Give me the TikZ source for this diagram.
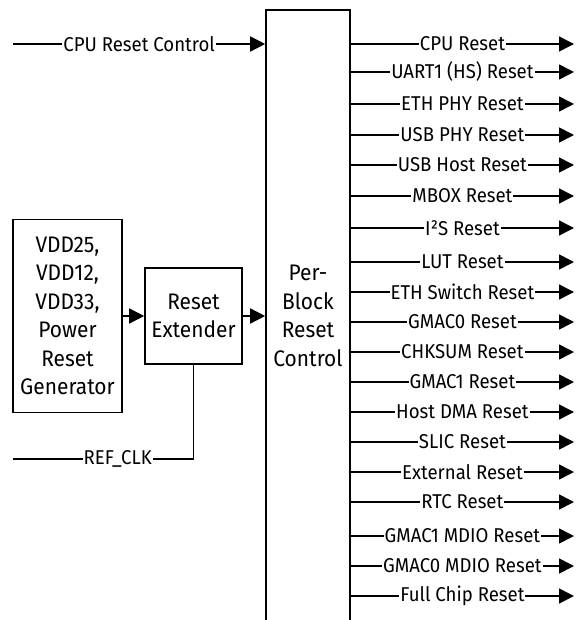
\documentclass[tikz,border=0pt]{standalone}
\usepackage{fontspec}
\setmainfont[FakeStretch = 0.93]{Fira Sans}
\usetikzlibrary{arrows.meta,positioning}

\tikzset{
  blk/.style = {draw, line width = 1.6pt, align = center, font = \fontsize{22.5}{28.5}\selectfont},
  wire/.style = {line width = 1.6pt},
  sig/.style = {wire, -{Triangle[length = 15pt, width = 15pt]}},
  lbl/.style = {fill = white, inner sep = 1pt, font = \fontsize{20}{22}\selectfont}
}

\begin{document}
\begin{tikzpicture}[x = 1pt, y = -1pt]
\useasboundingbox (0,0) rectangle (575,620);
\node[blk, minimum width = 109pt, minimum height = 193pt] (prg) at (67.5,316) {VDD25,\\VDD12,\\VDD33,\\Power\\Reset\\Generator};
\node[blk, minimum width = 97pt, minimum height = 96pt] (ext) at (193.5,316) {Reset\\Extender};
\node[draw, line width = 1.6pt, minimum width = 84pt, minimum height = 640pt, anchor = north] (ctrl) at (308,9) {};
\node[blk, draw = none] (ctrltxt) at (308,316) {Per-\\Block\\Reset\\Control};
% inputs
\coordinate (cpuin) at (13,44);
\coordinate (clkin) at (13,459);
\draw[sig] (cpuin) -- node[lbl] {CPU Reset Control} (cpuin -| ctrl.west);
\draw[sig] (prg) -- (ext);
\draw[sig] (ext) -- (ext -| ctrl.west);
\draw[wire] (clkin) -| node[lbl, pos = 0.29] {REF\_CLK} (ext.south);
% outputs
\foreach \y/\t [count = \i] in {44/{CPU Reset}, 72/{UART1 (HS) Reset}, 104/{ETH PHY Reset}, 135/{USB PHY Reset}, 165/{USB Host Reset}, 196/{MBOX Reset}, 228/{I²S Reset}, 262/{LUT Reset}, 292/{ETH Switch Reset}, 322/{GMAC0 Reset}, 352/{CHKSUM Reset}, 382/{GMAC1 Reset}, 412/{Host DMA Reset}, 442/{SLIC Reset}, 472/{External Reset}, 502/{RTC Reset}, 536/{GMAC1 MDIO Reset}, 566/{GMAC0 MDIO Reset}, 596/{Full Chip Reset}} {
  \coordinate (out\i) at (574,\y);
  \draw[sig] (out\i -| ctrl.east) -- node[lbl] {\t} (out\i);
}
\end{tikzpicture}
\end{document}
